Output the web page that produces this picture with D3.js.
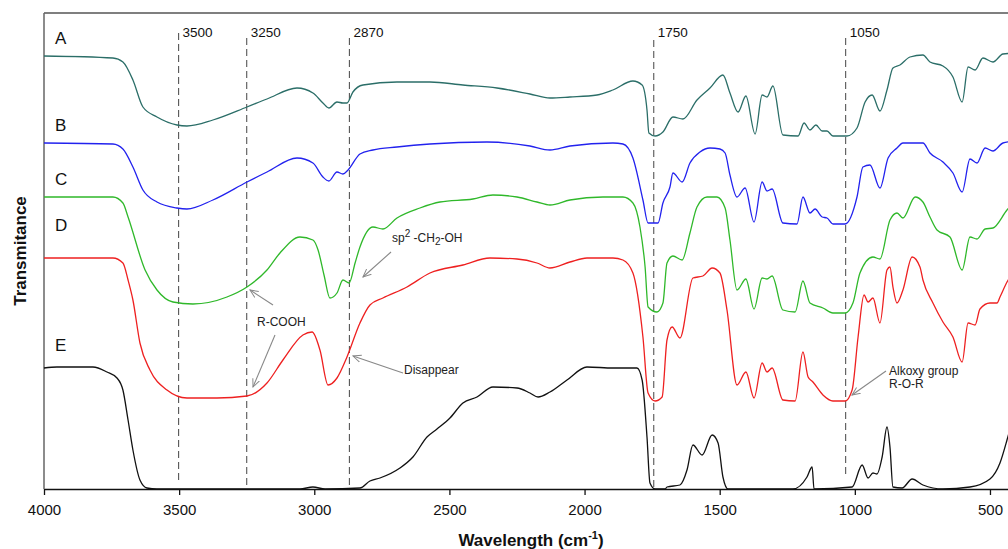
<!DOCTYPE html>
<html>
<head>
<meta charset="utf-8">
<script src="https://cdn.jsdelivr.net/npm/d3@7"></script>
<style>
  body { margin: 0; background: #fff; }
  svg { display: block; font-family: "Liberation Sans", Arial, Helvetica, sans-serif; }
</style>
</head>
<body>
<div id="chart"></div>
<script>
// spectra: [wavenumber (cm-1), transmittance (a.u., offset stacked)]
const specA = [[4000,433],[3745,431],[3708,427],[3671,409],[3634,382],[3582,372],[3508,364],[3471,363],[3375,369],[3249,382],[3175,390],[3064,401],[3005,396],[2968,386],[2946,381],[2916,387],[2894,386],[2879,386],[2857,397],[2820,404],[2694,407],[2572,407],[2450,404],[2324,401],[2202,395],[2128,391],[2054,392],[1954,394],[1895,399],[1821,408],[1787,404],[1769,379],[1762,356],[1739,353],[1710,357],[1673,372],[1636,370],[1584,389],[1536,401],[1488,414],[1462,396],[1432,377],[1403,393],[1369,355],[1343,394],[1325,392],[1303,403],[1266,354],[1210,353],[1188,366],[1166,359],[1144,364],[1121,358],[1103,358],[1081,353],[1029,353],[992,361],[962,387],[936,394],[907,378],[881,399],[859,421],[833,424],[796,432],[748,434],[722,427],[674,423],[637,412],[603,387],[581,422],[555,419],[526,431],[489,427],[452,435],[400,436]];
const specB = [[4000,346],[3745,345],[3708,340],[3671,322],[3634,299],[3582,287],[3508,281],[3471,280],[3375,289],[3249,307],[3175,317],[3064,331],[3005,326],[2968,312],[2946,308],[2916,317],[2894,315],[2875,319],[2831,335],[2783,339],[2694,342],[2572,345],[2361,347],[2202,343],[2128,339],[2054,343],[1895,346],[1858,345],[1821,331],[1784,289],[1765,266],[1728,266],[1710,286],[1684,302],[1673,316],[1639,307],[1610,326],[1573,337],[1536,341],[1499,340],[1480,336],[1462,314],[1436,292],[1406,301],[1373,267],[1343,307],[1325,298],[1306,300],[1266,266],[1214,265],[1192,292],[1166,276],[1147,280],[1121,272],[1103,271],[1081,265],[1036,265],[992,292],[970,322],[944,324],[907,301],[877,331],[844,341],[822,346],[748,346],[722,336],[674,327],[637,316],[603,297],[574,330],[548,326],[518,341],[489,338],[452,346],[400,348]];
const specC = [[4000,292],[3745,292],[3708,286],[3689,272],[3626,219],[3582,199],[3523,187],[3449,185],[3323,192],[3249,202],[3175,219],[3127,236],[3053,252],[3005,249],[2986,239],[2964,214],[2942,191],[2916,196],[2894,209],[2871,206],[2849,226],[2831,242],[2783,262],[2746,260],[2694,271],[2609,281],[2535,287],[2413,290],[2339,294],[2250,292],[2176,287],[2128,284],[2054,289],[1932,292],[1858,292],[1821,286],[1795,262],[1776,222],[1765,182],[1732,177],[1710,186],[1695,226],[1673,233],[1639,229],[1610,256],[1584,282],[1547,292],[1510,292],[1480,281],[1462,249],[1436,199],[1403,210],[1373,180],[1343,211],[1325,210],[1306,213],[1266,179],[1221,177],[1192,208],[1166,186],[1118,181],[1081,176],[1036,176],[1007,186],[981,216],[933,232],[907,230],[870,269],[844,276],[822,271],[777,292],[748,287],[722,272],[696,259],[648,252],[603,219],[574,252],[548,250],[518,260],[489,261],[437,279],[400,290]];
const specD = [[4000,231],[3745,231],[3708,226],[3689,209],[3671,189],[3645,146],[3608,119],[3545,99],[3471,91],[3360,91],[3249,93],[3175,106],[3116,129],[3042,154],[3008,157],[2979,139],[2949,104],[2916,111],[2879,132],[2831,166],[2794,184],[2746,191],[2657,202],[2572,216],[2450,224],[2350,231],[2250,230],[2176,226],[2128,221],[2054,227],[1991,231],[1895,231],[1858,229],[1821,216],[1784,152],[1765,96],[1739,88],[1713,92],[1695,149],[1676,162],[1647,151],[1599,211],[1562,213],[1528,221],[1499,216],[1473,179],[1436,104],[1403,117],[1373,91],[1343,126],[1325,117],[1306,121],[1266,89],[1221,88],[1192,137],[1173,112],[1155,107],[1118,94],[1081,88],[1036,88],[1010,99],[988,152],[966,194],[951,187],[933,191],[907,166],[881,219],[870,222],[859,202],[844,186],[822,199],[788,232],[759,222],[748,209],[711,186],[674,167],[637,152],[603,127],[581,166],[555,164],[537,180],[500,186],[474,186],[463,192],[437,207],[400,222]];
const specE = [[4000,121],[3952,122],[3819,122],[3767,117],[3730,111],[3708,99],[3689,69],[3671,39],[3645,9],[3619,1],[3582,0],[3053,0],[3005,2],[2960,0],[2831,1],[2794,8],[2757,11],[2683,21],[2635,32],[2583,52],[2546,60],[2498,71],[2450,86],[2398,92],[2339,102],[2250,101],[2202,96],[2172,92],[2128,97],[2065,109],[1991,122],[1895,121],[1806,121],[1787,109],[1769,52],[1758,6],[1739,0],[1702,0],[1695,2],[1647,4],[1621,19],[1599,44],[1565,34],[1528,54],[1506,46],[1488,12],[1469,0],[1229,0],[1177,12],[1158,22],[1151,0],[1010,2],[973,24],[951,11],[933,16],[918,15],[899,32],[881,62],[870,42],[859,2],[825,1],[788,10],[748,4],[674,0],[574,2],[500,10],[463,26],[437,49],[420,66]];

const seriesNames = ["A", "B", "C", "D", "E"];
const seriesData = [specA, specB, specC, specD, specE];
const seriesColors = ["#2b6e68", "#2222ee", "#2fb82a", "#ee2020", "#111111"];

const xTicks = [4000, 3500, 3000, 2500, 2000, 1500, 1000, 500];
// where the dashed lines sit in the figure, and the labels printed on them
const markerWn = [3502, 3250, 2870, 1744, 1034];
const markerLabels = ["3500", "3250", "2870", "1750", "1050"];

// chart plot area (the right side of the figure is cut off)
const W = 1008, H = 549;
const margin = {left: 44, top: 13, bottom: 60};
const plotBottom = H - margin.bottom;

const svg = d3.select("#chart").append("svg")
  .attr("width", W)
  .attr("height", H);

const x = d3.scaleLinear().domain([4000, 400]).range([margin.left, 1017]);
const y = d3.scaleLinear().domain([0, 476]).range([plotBottom, margin.top]);

svg.append("defs").append("marker")
  .attr("id", "arrow")
  .attr("viewBox", "0 0 10 10")
  .attr("refX", 9).attr("refY", 5)
  .attr("markerWidth", 9).attr("markerHeight", 9)
  .attr("markerUnits", "userSpaceOnUse")
  .attr("orient", "auto")
  .append("path")
  .attr("d", "M0,1 L9,5 L0,9")
  .attr("fill", "none")
  .attr("stroke", "#888")
  .attr("stroke-width", 1.1);

// frame
svg.append("line")
  .attr("x1", margin.left).attr("x2", W)
  .attr("y1", margin.top).attr("y2", margin.top)
  .attr("stroke", "#555").attr("stroke-width", 1.5);
svg.append("line")
  .attr("x1", margin.left).attr("x2", margin.left)
  .attr("y1", margin.top).attr("y2", plotBottom)
  .attr("stroke", "#666").attr("stroke-width", 1.5);

// dashed reference lines
const markerTop = [33, 38, 38, 40, 38];
const markerBot = [482, 486, 488, 488, 478];
const marks = svg.append("g").attr("class", "markers");
marks.selectAll("line")
  .data(markerWn)
  .enter().append("line")
  .attr("x1", d => x(d)).attr("x2", d => x(d))
  .attr("y1", (d, i) => markerTop[i]).attr("y2", (d, i) => markerBot[i])
  .attr("stroke", "#555")
  .attr("stroke-width", 1.1)
  .attr("stroke-dasharray", "7,4");
marks.selectAll("text")
  .data(markerWn)
  .enter().append("text")
  .attr("x", d => x(d) + 4)
  .attr("y", 37)
  .style("font-size", "13.5px")
  .style("fill", "#111")
  .text((d, i) => markerLabels[i]);

// spectra
const line = d3.line()
  .x(d => x(d[0]))
  .y(d => y(d[1]))
  .curve(d3.curveMonotoneX);

svg.append("g").attr("class", "spectra")
  .selectAll("path")
  .data(seriesData)
  .enter().append("path")
  .attr("d", line)
  .attr("fill", "none")
  .attr("stroke", (d, i) => seriesColors[i])
  .attr("stroke-width", 1.3)
  .attr("stroke-linejoin", "round");

// curve letters
const letterY = [44, 131, 185, 231, 351];
svg.selectAll(".letter")
  .data(seriesNames)
  .enter().append("text")
  .attr("class", "letter")
  .attr("x", 55)
  .attr("y", (d, i) => letterY[i])
  .style("font-size", "17px")
  .style("fill", "#111")
  .text(d => d);

// x axis
const xAxis = svg.append("g")
  .attr("class", "axis axis-x")
  .attr("transform", `translate(0, ${plotBottom})`)
  .call(d3.axisBottom(x).tickValues(xTicks).tickSize(6).tickSizeOuter(0).tickFormat(d3.format("d")));
xAxis.select(".domain").attr("stroke", "#111").attr("stroke-width", 1.5);
xAxis.selectAll(".tick line").attr("stroke", "#111").attr("stroke-width", 1.3);
xAxis.selectAll(".tick text")
  .attr("y", 15)
  .style("font-size", "15px")
  .style("font-family", "'Liberation Sans', Arial, sans-serif")
  .style("fill", "#111");

// axis titles
const xTitle = svg.append("text")
  .attr("x", 531)
  .attr("y", 546)
  .style("text-anchor", "middle")
  .style("font-size", "17px")
  .style("font-weight", "bold")
  .style("fill", "#111");
xTitle.append("tspan").text("Wavelength (cm");
xTitle.append("tspan").attr("dy", -7).style("font-size", "11px").text("-1");
xTitle.append("tspan").attr("dy", 7).text(")");

svg.append("text")
  .attr("transform", "rotate(-90)")
  .attr("x", -(margin.top + plotBottom) / 2)
  .attr("y", 26)
  .style("text-anchor", "middle")
  .style("font-size", "17px")
  .style("font-weight", "bold")
  .style("fill", "#111")
  .text("Transmitance");

// annotations
const notes = svg.append("g").attr("class", "notes")
  .style("font-size", "12px").style("fill", "#222");
const arrows = [
  [391, 252, 363, 277],
  [273, 305, 250, 290],
  [275, 335, 253, 387],
  [403, 373, 353, 356],
  [886, 371, 852, 395]
];
notes.selectAll("line")
  .data(arrows)
  .enter().append("line")
  .attr("x1", d => d[0]).attr("y1", d => d[1])
  .attr("x2", d => d[2]).attr("y2", d => d[3])
  .attr("stroke", "#888")
  .attr("stroke-width", 1.1)
  .attr("marker-end", "url(#arrow)");

const sp = notes.append("text").attr("x", 392).attr("y", 242);
sp.append("tspan").text("sp");
sp.append("tspan").attr("dy", -5).style("font-size", "10px").text("2");
sp.append("tspan").attr("dy", 5).text(" -CH");
sp.append("tspan").attr("dy", 3).style("font-size", "10px").text("2");
sp.append("tspan").attr("dy", -3).text("-OH");

notes.append("text").attr("x", 257).attr("y", 326).text("R-COOH");
notes.append("text").attr("x", 404).attr("y", 374).text("Disappear");
notes.append("text").attr("x", 889).attr("y", 375).text("Alkoxy group");
notes.append("text").attr("x", 889).attr("y", 388).text("R-O-R");
</script>
</body>
</html>
